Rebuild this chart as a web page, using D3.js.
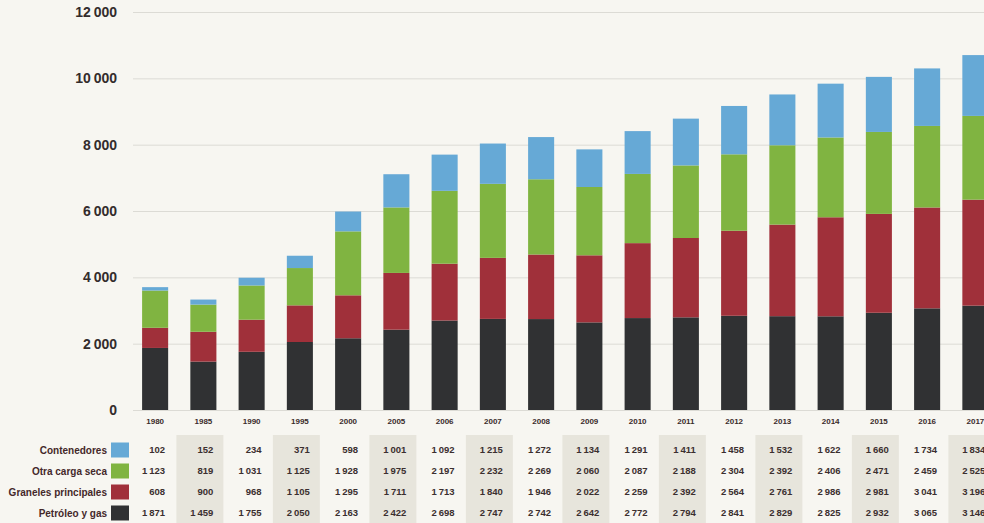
<!DOCTYPE html>
<html>
<head>
<meta charset="utf-8">
<script src="https://cdn.jsdelivr.net/npm/d3@7"></script>
<style>
  body { margin: 0; background: #f7f6f1; }
  svg { display: block; }
</style>
</head>
<body>
<div id="chart-area"></div>
<script>
let years = ["1980", "1985", "1990", "1995", "2000", "2005", "2006", "2007", "2008",
  "2009", "2010", "2011", "2012", "2013", "2014", "2015", "2016", "2017"]

let containers = [102, 152, 234, 371, 598, 1001, 1092, 1215, 1272, 1134, 1291, 1411, 1458, 1532, 1622, 1660, 1734, 1834]
let otherDry = [1123, 819, 1031, 1125, 1928, 1975, 2197, 2232, 2269, 2060, 2087, 2188, 2304, 2392, 2406, 2471, 2459, 2525]
let mainBulk = [608, 900, 968, 1105, 1295, 1711, 1713, 1840, 1946, 2022, 2259, 2392, 2564, 2761, 2986, 2981, 3041, 3196]
let oilGas = [1871, 1459, 1755, 2050, 2163, 2422, 2698, 2747, 2742, 2642, 2772, 2794, 2841, 2829, 2825, 2932, 3065, 3146]

let seriesNames = ["Contenedores", "Otra carga seca", "Graneles principales", "Petróleo y gas"]
let yTicks = [0, 2000, 4000, 6000, 8000, 10000, 12000]

let width = 984
let height = 523

let svg = d3.select("#chart-area").append("svg")
  .attr("width", width)
  .attr("height", height)

// bottom -> top stacking order
let keys = ["oil", "bulk", "dry", "cont"]
let colors = { oil: "#303133", bulk: "#a0303a", dry: "#80b441", cont: "#66a9d6" }
let seriesByName = {
  "Contenedores": "cont",
  "Otra carga seca": "dry",
  "Graneles principales": "bulk",
  "Petróleo y gas": "oil"
}
let values = { cont: containers, dry: otherDry, bulk: mainBulk, oil: oilGas }

let table = years.map((year, i) => {
  return { year: year, cont: containers[i], dry: otherDry[i], bulk: mainBulk[i], oil: oilGas[i] }
})

let y = d3.scaleLinear()
  .domain([0, 12000])
  .range([410, 12])

let x = d3.scaleBand()
  .domain(years)
  .range([131, 131 + 18 * 48.25])
  .paddingInner(0.46)
  .paddingOuter(0.23)

// gridlines + y labels
let yAxisCall = d3.axisLeft(y)
  .tickValues(yTicks)
  .tickSize(-(width - 133))
  .tickPadding(16)
  .tickFormat(d => d3.format(",")(d).replace(",", "\u2009"))

let yAxisGroup = svg.append("g")
  .attr("class", "y-axis")
  .attr("transform", "translate(133, 0)")
  .call(yAxisCall)

yAxisGroup.select(".domain").remove()
yAxisGroup.selectAll(".tick line")
  .attr("stroke", "#dcdbd5")
yAxisGroup.selectAll(".tick text")
  .attr("fill", "#332c2c")
  .style("font-family", "'Liberation Sans', Arial, sans-serif")
  .style("font-size", "14px")
  .style("font-weight", "bold")

// stacked bars
let stacked = d3.stack().keys(keys)(table)

svg.append("g").selectAll("g")
  .data(stacked)
  .enter().append("g")
    .attr("fill", d => colors[d.key])
  .selectAll("rect")
  .data(d => d)
  .enter().append("rect")
    .attr("x", d => x(d.data.year))
    .attr("width", x.bandwidth())
    .attr("y", d => y(d[1]))
    .attr("height", d => y(d[0]) - y(d[1]))

// x labels
let xAxisGroup = svg.append("g")
  .attr("class", "x-axis")
  .attr("transform", "translate(0, 410)")
  .call(d3.axisBottom(x).tickSize(0).tickPadding(8))

xAxisGroup.select(".domain").remove()
xAxisGroup.selectAll(".tick text")
  .attr("fill", "#3a2b2b")
  .style("font-family", "'Liberation Sans', Arial, sans-serif")
  .style("font-size", "8px")
  .style("font-weight", "bold")

// data table
let fmt = d3.formatLocale({ decimal: ",", thousands: "\u2009", grouping: [3], currency: ["", ""] }).format(",")
let rowY = d3.scalePoint()
  .domain(seriesNames)
  .range([450, 513])

let tableGroup = svg.append("g").attr("class", "table")

tableGroup.selectAll(".shade")
  .data(years.filter((d, i) => i % 2 === 1))
  .enter().append("rect")
    .attr("class", "shade")
    .attr("x", d => x(d) + x.bandwidth() / 2 - 27)
    .attr("width", 47)
    .attr("y", 435)
    .attr("height", height - 435)
    .attr("fill", "#e7e5dc")

seriesNames.forEach(name => {
  let key = seriesByName[name]
  let cy = rowY(name)

  tableGroup.append("text")
    .attr("x", 107)
    .attr("y", cy)
    .attr("dy", "0.35em")
    .attr("text-anchor", "end")
    .attr("fill", "#44282a")
    .style("font-family", "'Liberation Sans Narrow', 'Liberation Sans', Arial, sans-serif")
    .style("font-size", "10px")
    .style("font-weight", "bold")
    .text(name)

  tableGroup.append("rect")
    .attr("x", 111)
    .attr("y", cy - 7.5)
    .attr("width", 18)
    .attr("height", 15)
    .attr("fill", colors[key])

  tableGroup.selectAll(".num-" + key)
    .data(values[key])
    .enter().append("text")
      .attr("x", (d, i) => x(years[i]) + x.bandwidth() / 2 + 10)
      .attr("y", cy)
      .attr("dy", "0.35em")
      .attr("text-anchor", "end")
      .attr("fill", "#3b2f2f")
      .style("font-family", "'Liberation Sans', Arial, sans-serif")
      .style("font-size", "9.5px")
      .style("font-weight", "bold")
      .text(d => fmt(d))
})
</script>
</body>
</html>
